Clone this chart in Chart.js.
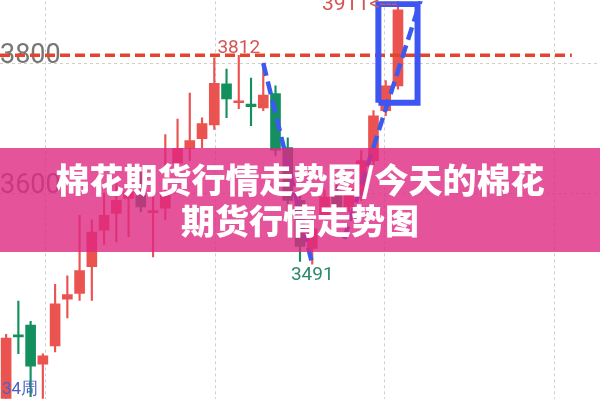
<!DOCTYPE html>
<html>
<head>
<meta charset="utf-8">
<script src="https://cdn.jsdelivr.net/npm/chart.js@4.4.0/dist/chart.umd.min.js"></script>
<style>
  html, body { margin: 0; padding: 0; background: #fff; }
  #wrap { position: relative; width: 600px; height: 400px; overflow: hidden; }
  #grafico { position: absolute; left: 0; top: 0; }
  #faixa {
    position: absolute; left: 0; top: 148px; width: 600px; height: 104px;
    background: rgba(222, 40, 130, 0.8); color: #fff; text-align: center;
    font-family: 'Noto Sans CJK SC', sans-serif; font-weight: 900; font-size: 34px;
    box-sizing: border-box; padding-top: 10px;
  }
  #faixa div { line-height: 41px; white-space: nowrap; }
</style>
</head>
<body>
<div id="wrap">
  <canvas id="grafico" width="600" height="400"></canvas>
  <div id="faixa"><div>棉花期货行情走势图/今天的棉花</div><div>期货行情走势图</div></div>
</div>
<script>
const aberturas = [3253, 3381, 3397, 3337, 3365, 3437, 3446, 3487, 3543, 3569, 3592, 3597, 3570, 3577, 3646, 3669, 3684,
  3705, 3768, 3739, 3737, 3731, 3753, 3670, 3589, 3515, 3563, 3600, 3579, 3597, 3650, 3727, 3765];
const fechamentos = [3377, 3379, 3334, 3350, 3430, 3444, 3481, 3540, 3566, 3589, 3602, 3579, 3573, 3597, 3669, 3681, 3707,
  3769, 3745, 3741, 3733, 3751, 3666, 3589, 3518, 3545, 3594, 3579, 3605, 3650, 3719, 3765, 3882];
const maximas = [3383, 3434, 3403, 3353, 3460, 3473, 3566, 3559, 3600, 3615, 3627, 3632, 3594, 3690, 3714, 3754, 3716,
  3808, 3791, 3812, 3777, 3800, 3765, 3685, 3605, 3560, 3605, 3612, 3615, 3666, 3727, 3773, 3911];
const minimas = [3240, 3353, 3287, 3284, 3356, 3408, 3435, 3435, 3521, 3525, 3533, 3571, 3502, 3559, 3635, 3650, 3670,
  3698, 3716, 3730, 3704, 3727, 3658, 3571, 3495, 3491, 3551, 3571, 3571, 3589, 3643, 3719, 3760];

const nivelPrecos = [3600, 3800];

// marcações
const maxAlta = 3812, idxAlta = 19;
const minBaixa = 3491, idxBaixa = 25;
const topo = 3911, idxTopo = 32;
const rotuloSemana = '34周';

const linhaResistencia = [{ x: -0.5, y: 3812 }, { x: 46.2, y: 3812 }];
const tendenciaQueda = [{ x: 21, y: 3800 }, { x: 25, y: 3491 }];
const tendenciaAlta = [{ x: 27.6, y: 3530 }, { x: 34.1, y: 3911 }];
const caixa = [{ x: 30.4, y: 3739 }, { x: 33.6, y: 3739 }, { x: 33.6, y: 3891 }, { x: 30.4, y: 3891 }, { x: 30.4, y: 3739 }];

const corAlta = '#eb5350';
const corBaixa = '#14905f';

const cores = aberturas.map((a, i) => (fechamentos[i] >= a ? corAlta : corBaixa));
const corpos = aberturas.map((a, i) => ({ x: i, y: [a, fechamentos[i]] }));
const sombras = minimas.map((m, i) => ({ x: i, y: [m, maximas[i]] }));

const gridXEm = [3.18, 17.06, 30.94, 44.82];

const rotulos = {
  id: 'rotulos',
  afterDatasetsDraw(chart) {
    const { ctx, scales: { x, y }, chartArea } = chart;
    ctx.save();
    ctx.font = '19px Roboto';
    ctx.textBaseline = 'middle';
    ctx.textAlign = 'center';
    ctx.fillStyle = '#d65454';
    ctx.fillText(String(maxAlta), x.getPixelForValue(idxAlta), y.getPixelForValue(maxAlta) - 7);
    ctx.fillStyle = '#2b8a68';
    ctx.fillText(String(minBaixa), x.getPixelForValue(idxBaixa), y.getPixelForValue(minBaixa) + 11);
    ctx.textAlign = 'left';
    ctx.font = '21px Roboto';
    ctx.fillStyle = '#d65454';
    ctx.fillText(topo + '<---', x.getPixelForValue(idxTopo) - 76, y.getPixelForValue(topo) + 14);
    ctx.font = '17px Roboto';
    ctx.fillStyle = '#4c62c4';
    ctx.fillText(rotuloSemana, chartArea.left + 2, chartArea.bottom - 9);
    ctx.restore();
  }
};

const linha = (dados, cor, largura, traco, ordem) => ({
  type: 'line',
  data: dados,
  borderColor: cor,
  borderWidth: largura,
  borderDash: traco,
  pointRadius: 0,
  fill: false,
  tension: 0,
  order: ordem,
});

new Chart(document.getElementById('grafico'), {
  type: 'bar',
  data: {
    datasets: [
      linha(linhaResistencia, '#e4432d', 3.5, [10, 5], -1),
      linha(tendenciaQueda, '#3b5bf0', 4.5, [13, 6], -2),
      linha(tendenciaAlta, '#3b5bf0', 4.5, [13, 6], -2),
      linha(caixa, '#3d55f2', 6, [], -3),
      {
        data: corpos,
        backgroundColor: cores,
        barThickness: 10,
        minBarLength: 2,
        grouped: false,
        order: 0,
      },
      {
        data: sombras,
        backgroundColor: cores,
        barThickness: 1.5,
        grouped: false,
        order: 1,
      },
    ],
  },
  options: {
    responsive: false,
    animation: false,
    layout: { padding: 0 },
    plugins: { legend: { display: false }, tooltip: { enabled: false } },
    scales: {
      x: {
        type: 'linear',
        position: 'bottom',
        min: -0.5,
        max: 48.5,
        offset: false,
        ticks: { display: false },
        grid: { color: '#cfcfcf', drawTicks: false, offset: false },
        border: { display: false, dash: [3, 3] },
        afterBuildTicks: (s) => { s.ticks = gridXEm.map((v) => ({ value: v })); },
      },
      y: {
        min: 3284,
        max: 3895,
        position: 'left',
        ticks: {
          mirror: true,
          padding: 0,
          labelOffset: -7,
          color: '#777',
          font: { size: 27, family: 'Roboto', lineHeight: 0.1 },
          callback: (v) => String(v),
        },
        grid: { color: '#cfcfcf', drawTicks: false },
        border: { display: false, dash: [3, 3] },
        afterBuildTicks: (s) => { s.ticks = nivelPrecos.map((v) => ({ value: v })); },
      },
    },
  },
  plugins: [rotulos],
});
</script>
</body>
</html>
